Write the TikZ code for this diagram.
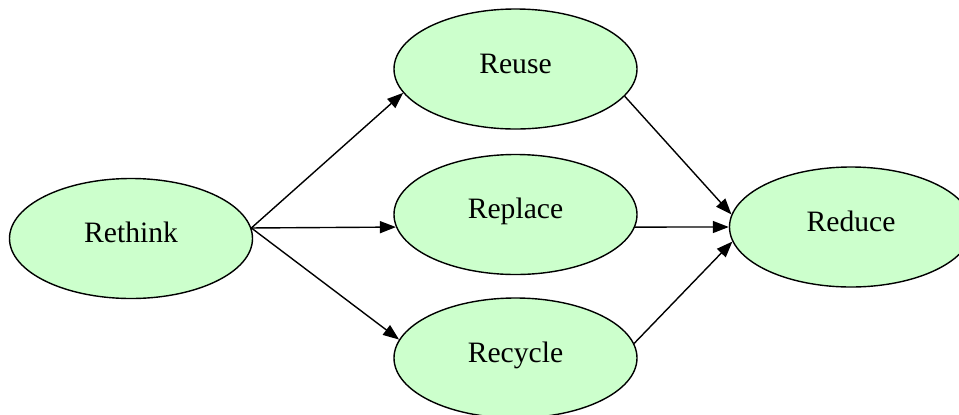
\documentclass[tikz,border=0pt]{standalone}
\usepackage{fontspec}
\setmainfont{Liberation Serif}
\usetikzlibrary{arrows.meta,shapes.geometric}
\definecolor{palegreen}{RGB}{204,255,204}

\begin{document}
\begin{tikzpicture}[
    x=0.5pt, y=-0.5pt,
    every node/.style={font=\fontsize{14.8}{17}\selectfont},
    stage/.style={ellipse, draw, line width=0.7pt, fill=palegreen,
                  minimum width=121.5pt, minimum height=60pt, inner sep=0pt,
                  text height=10pt, text depth=6pt},
    arr/.style ={-{Triangle[length=8pt, width=6pt]}, line width=0.7pt}
  ]
  \clip (0,0) rectangle (959,414);
  \node[stage] (rethink) at (131,238.5) {Rethink};
  \node[stage] (reuse)   at (515.5,69)  {Reuse};
  \node[stage] (replace) at (515.5,214.5) {Replace};
  \node[stage] (recycle) at (515.5,358) {Recycle};
  \node[stage] (reduce)  at (851,227)   {Reduce};
  \draw[arr] (rethink.5)   -- (reuse.192);
  \draw[arr] (rethink.5)   -- (replace.186);
  \draw[arr] (rethink.5)   -- (recycle.171);
  \draw[arr] (reuse.346)   -- (reduce.174);
  \draw[arr] (replace.354) -- (reduce.180);
  \draw[arr] (recycle.7)   -- (reduce.187);
\end{tikzpicture}
\end{document}
